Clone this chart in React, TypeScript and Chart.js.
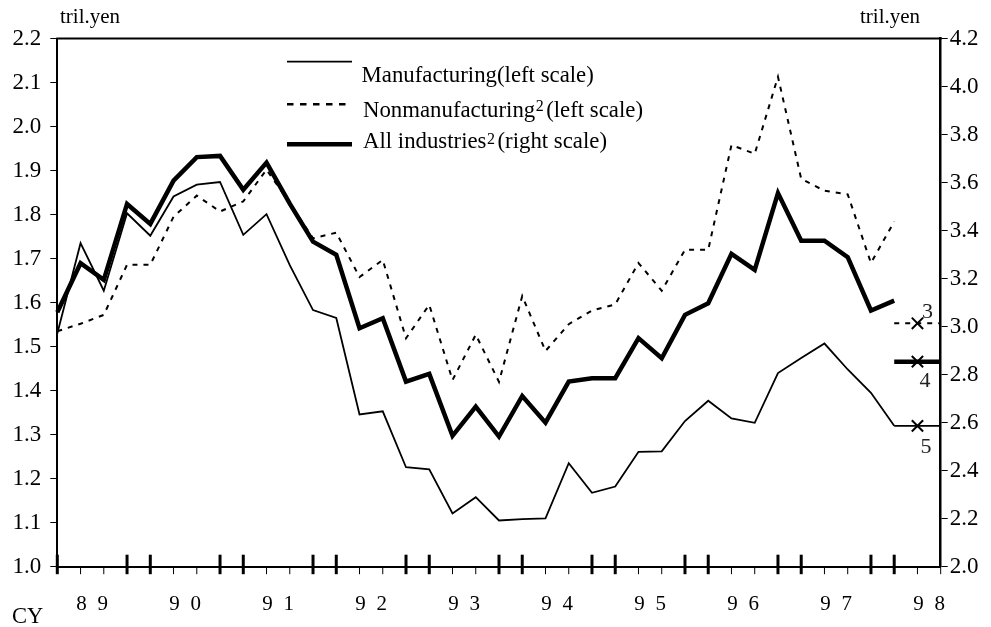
import React, { useEffect, useRef } from 'react';
import { Chart, registerables } from 'chart.js';

Chart.register(...registerables);

// Quarterly categories, 1989Q1 .. 1998Q3 (last two are plan positions / axis end)
const quarters = [
  '89Q1', '89Q2', '89Q3', '89Q4',
  '90Q1', '90Q2', '90Q3', '90Q4',
  '91Q1', '91Q2', '91Q3', '91Q4',
  '92Q1', '92Q2', '92Q3', '92Q4',
  '93Q1', '93Q2', '93Q3', '93Q4',
  '94Q1', '94Q2', '94Q3', '94Q4',
  '95Q1', '95Q2', '95Q3', '95Q4',
  '96Q1', '96Q2', '96Q3', '96Q4',
  '97Q1', '97Q2', '97Q3', '97Q4',
  '98Q1', '98Q2', '98Q3',
];

const yearLabels = ['89', '90', '91', '92', '93', '94', '95', '96', '97', '98'];

// left scale (tril. yen)
const manufacturing = [
  1.530, 1.735, 1.627, 1.803, 1.752, 1.841, 1.868, 1.874, 1.754, 1.801,
  1.685, 1.583, 1.565, 1.346, 1.353, 1.226, 1.221, 1.121, 1.158, 1.105,
  1.108, 1.110, 1.235, 1.168, 1.182, 1.261, 1.262, 1.331, 1.377, 1.337,
  1.327, 1.440, 1.474, 1.507, 1.448, 1.395, 1.320,
];

// left scale (tril. yen)
const nonmanufacturing = [
  1.535, 1.552, 1.572, 1.686, 1.686, 1.795, 1.843, 1.807, 1.830, 1.902,
  1.826, 1.746, 1.759, 1.658, 1.697, 1.519, 1.595, 1.424, 1.527, 1.420,
  1.615, 1.490, 1.551, 1.582, 1.596, 1.690, 1.627, 1.720, 1.720, 1.958,
  1.938, 2.113, 1.881, 1.854, 1.846, 1.690, 1.784,
];

// right scale (tril. yen)
const allIndustries = [
  3.060, 3.264, 3.195, 3.511, 3.428, 3.608, 3.706, 3.711, 3.570, 3.683,
  3.512, 3.354, 3.299, 2.993, 3.035, 2.771, 2.803, 2.545, 2.667, 2.542,
  2.711, 2.600, 2.771, 2.785, 2.785, 2.952, 2.868, 3.049, 3.097, 3.303,
  3.236, 3.556, 3.358, 3.358, 3.289, 3.067, 3.108,
];

// plan values (footnotes 3, 4, 5)
const planNonmanufacturing = 1.553; // note 3, left scale
const planAllIndustries = 2.854; // note 4, right scale
const planManufacturing = 1.320; // note 5, left scale
const planIndex = 37;
const planNotes = ['3', '4', '5'];

const leftMin = 1.0, leftMax = 2.2, leftStep = 0.1;
const rightMin = 2.0, rightMax = 4.2, rightStep = 0.2;

const SERIF = '"Liberation Serif", "Times New Roman", serif';

const planLine = (v: number) => quarters.map((_, i) => (i >= planIndex - 1 ? v : null));

const overlayPlugin = {
  id: 'overlay',
  afterDraw(chart: any) {
    const ctx = chart.ctx as CanvasRenderingContext2D;
    const area = chart.chartArea;
    const xs = chart.scales.x;
    const yL = chart.scales.y;
    const yR = chart.scales.y1;
    ctx.save();
    ctx.strokeStyle = '#000';
    ctx.fillStyle = '#000';

    // top frame line
    ctx.lineWidth = 2;
    ctx.beginPath();
    ctx.moveTo(area.left - 1, area.top);
    ctx.lineTo(area.right + 1, area.top);
    ctx.stroke();

    // x tick marks
    const bottom = area.bottom;
    for (let k = 0; k < quarters.length; k++) {
      const px = xs.getPixelForValue(k);
      const thick = k < planIndex && (k % 4 === 0 || k % 4 === 3);
      ctx.beginPath();
      if (thick) {
        ctx.lineWidth = 3;
        ctx.moveTo(px, bottom - 12);
        ctx.lineTo(px, bottom + 7.5);
      } else {
        ctx.lineWidth = 1;
        ctx.moveTo(px, bottom);
        ctx.lineTo(px, bottom + 7.5);
      }
      ctx.stroke();
    }

    // year labels
    ctx.font = `21px ${SERIF}`;
    ctx.textAlign = 'center';
    ctx.textBaseline = 'alphabetic';
    yearLabels.forEach((lab, i) => {
      const a = xs.getPixelForValue(4 * i + 1);
      const b = xs.getPixelForValue(4 * i + 2);
      const cx = (a + b) / 2;
      ctx.fillText(lab[0], cx - 10.7, 609.5);
      ctx.fillText(lab[1], cx + 10.7, 609.5);
    });

    // axis titles
    ctx.textAlign = 'left';
    ctx.font = `21px ${SERIF}`;
    ctx.fillText('tril.yen', 60, 23);
    ctx.fillText('tril.yen', 860, 23);
    ctx.font = `22.5px ${SERIF}`;
    ctx.fillText('CY', 12, 623);

    // plan notes
    const px = xs.getPixelForValue(planIndex);
    ctx.fillStyle = '#222';
    ctx.font = `22px ${SERIF}`;
    ctx.textAlign = 'center';
    ctx.fillText(planNotes[0], px + 10, yL.getPixelForValue(planNonmanufacturing) - 5);
    ctx.fillText(planNotes[1], px + 7.5, yR.getPixelForValue(planAllIndustries) + 25);
    ctx.fillText(planNotes[2], px + 8.5, yL.getPixelForValue(planManufacturing) + 27);

    // legend
    ctx.fillStyle = '#000';
    ctx.textAlign = 'left';
    const lx0 = 287, lx1 = 352;
    ctx.lineWidth = 1.8;
    ctx.setLineDash([]);
    ctx.beginPath();
    ctx.moveTo(lx0, 61.7);
    ctx.lineTo(lx1, 61.7);
    ctx.stroke();
    ctx.lineWidth = 2.5;
    ctx.setLineDash([6.5, 6.5]);
    ctx.beginPath();
    ctx.moveTo(lx0, 104.3);
    ctx.lineTo(lx1, 104.3);
    ctx.stroke();
    ctx.setLineDash([]);
    ctx.lineWidth = 4.5;
    ctx.beginPath();
    ctx.moveTo(lx0, 144.3);
    ctx.lineTo(lx1, 144.3);
    ctx.stroke();

    const mainFont = `22.8px ${SERIF}`;
    const supFont = `16px ${SERIF}`;
    const drawItem = (base: string, x: number, y: number, supY: number, rest?: string) => {
      ctx.font = mainFont;
      ctx.fillText(base, x, y);
      if (!rest) return;
      const w = ctx.measureText(base).width;
      ctx.font = supFont;
      const sx = x + w + 0.5;
      ctx.fillText('2', sx, supY);
      const sw = ctx.measureText('2').width;
      ctx.font = mainFont;
      ctx.fillText(rest, sx + sw + 2.5, y);
    };
    drawItem('Manufacturing(left scale)', 361.5, 81.7, 0);
    drawItem('Nonmanufacturing', 363, 116.7, 110.5, '(left scale)');
    drawItem('All industries', 363, 148.3, 143.5, '(right scale)');

    ctx.restore();
  },
};

export default function App() {
  const ref = useRef<HTMLCanvasElement | null>(null);

  useEffect(() => {
    document.body.style.margin = '0';
    const canvas = ref.current;
    if (!canvas) return;

    const chart = new Chart(canvas, {
      type: 'line',
      data: {
        labels: quarters,
        datasets: [
          {
            label: 'Manufacturing(left scale)',
            data: manufacturing,
            yAxisID: 'y',
            borderColor: '#000',
            borderWidth: 1.8,
            pointRadius: 0,
            tension: 0,
            borderJoinStyle: 'miter',
          },
          {
            label: 'Nonmanufacturing(left scale)',
            data: nonmanufacturing,
            yAxisID: 'y',
            borderColor: '#000',
            borderWidth: 2,
            borderDash: [5, 6],
            pointRadius: 0,
            tension: 0,
          },
          {
            label: 'All industries(right scale)',
            data: allIndustries,
            yAxisID: 'y1',
            borderColor: '#000',
            borderWidth: 4.5,
            pointRadius: 0,
            tension: 0,
            borderJoinStyle: 'miter',
          },
          {
            label: 'plan 3',
            data: planLine(planNonmanufacturing),
            yAxisID: 'y',
            borderColor: '#000',
            borderWidth: 2,
            borderDash: [5, 6],
            pointStyle: 'crossRot',
            pointRadius: (c: any) => (c.dataIndex === planIndex ? 8 : 0),
            pointBorderWidth: 2,
            pointBorderColor: '#000',
            spanGaps: false,
          },
          {
            label: 'plan 4',
            data: planLine(planAllIndustries),
            yAxisID: 'y1',
            borderColor: '#000',
            borderWidth: 4.5,
            pointStyle: 'crossRot',
            pointRadius: (c: any) => (c.dataIndex === planIndex ? 8 : 0),
            pointBorderWidth: 2,
            pointBorderColor: '#000',
            spanGaps: false,
            clip: 6,
          },
          {
            label: 'plan 5',
            data: planLine(planManufacturing),
            yAxisID: 'y',
            borderColor: '#000',
            borderWidth: 1.8,
            pointStyle: 'crossRot',
            pointRadius: (c: any) => (c.dataIndex === planIndex ? 8 : 0),
            pointBorderWidth: 2,
            pointBorderColor: '#000',
            spanGaps: false,
          },
        ],
      },
      options: {
        responsive: false,
        animation: false,
        devicePixelRatio: 1,
        layout: { padding: { top: 38.5, left: 0, right: 0, bottom: 0 } },
        plugins: {
          legend: { display: false },
          tooltip: { enabled: false },
        },
        scales: {
          x: {
            type: 'category',
            offset: false,
            ticks: { display: false },
            grid: { display: false },
            border: { display: true, color: '#000', width: 2 },
            afterFit: (s: any) => {
              s.height = 60.3;
            },
          },
          y: {
            position: 'left',
            min: leftMin,
            max: leftMax,
            ticks: {
              stepSize: leftStep,
              color: '#000',
              padding: 9,
              font: { family: SERIF, size: 23 },
              callback: (v: any) => Number(v).toFixed(1),
            },
            grid: {
              drawOnChartArea: false,
              drawTicks: true,
              tickLength: 7,
              tickWidth: 1,
              tickColor: '#000',
            },
            border: { display: true, color: '#000', width: 2 },
            afterFit: (s: any) => {
              s.width = 57.3;
            },
          },
          y1: {
            position: 'right',
            min: rightMin,
            max: rightMax,
            ticks: {
              stepSize: rightStep,
              color: '#000',
              padding: 2,
              font: { family: SERIF, size: 23 },
              callback: (v: any) => Number(v).toFixed(1),
            },
            grid: {
              drawOnChartArea: false,
              drawTicks: true,
              tickLength: 7,
              tickWidth: 1,
              tickColor: '#000',
            },
            border: { display: true, color: '#000', width: 2.5 },
            afterFit: (s: any) => {
              s.width = 50.3;
            },
          },
        },
      },
      plugins: [overlayPlugin],
    } as any);

    return () => chart.destroy();
  }, []);

  return (
    <div style={{ position: 'absolute', left: 0, top: 0, width: 991, height: 627 }}>
      <canvas ref={ref} width={991} height={627} style={{ display: 'block', width: 991, height: 627 }} />
    </div>
  );
}
